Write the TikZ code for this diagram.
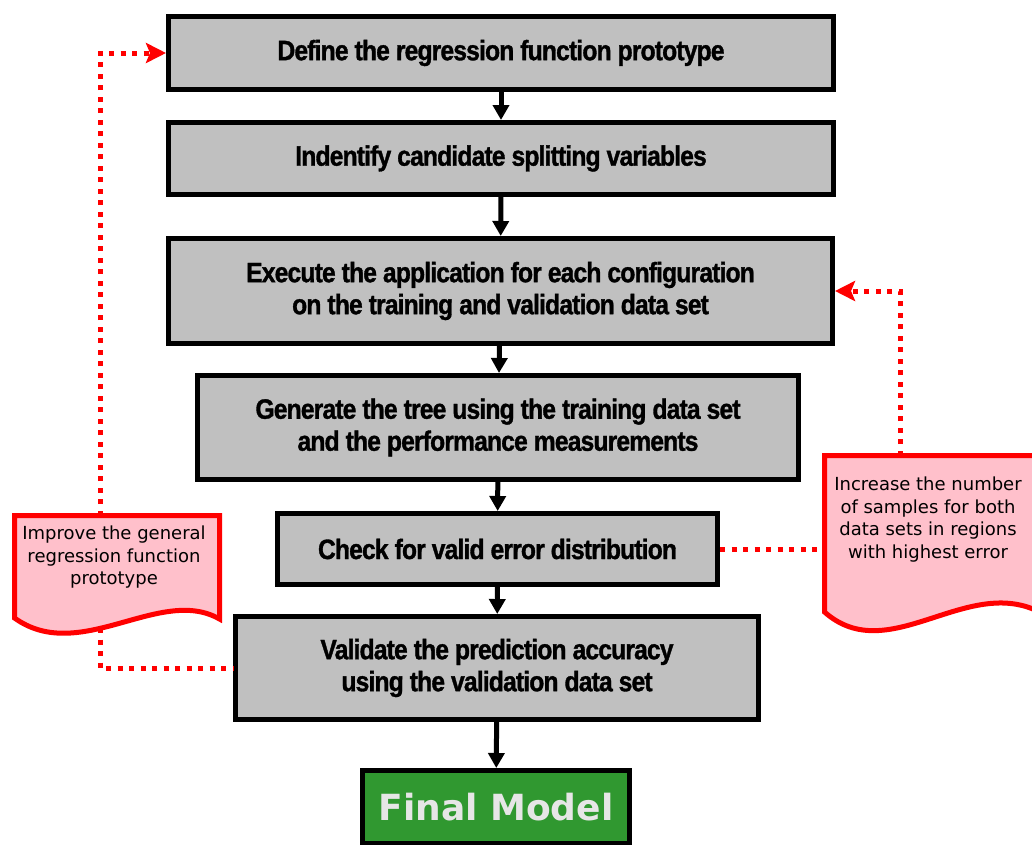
\documentclass[tikz,border=0pt]{standalone}
\usepackage{fontspec}
\setmainfont{DejaVu Sans}
\newfontfamily\boxfont[FakeStretch=0.88,LetterSpace=-3,FakeBold=1.2]{Liberation Sans}
\newfontfamily\notefont{DejaVu Sans}
\usetikzlibrary{arrows.meta,calc}
\definecolor{boxgray}{HTML}{C0C0C0}
\definecolor{notepink}{HTML}{FFC0CB}
\definecolor{finalgreen}{RGB}{48,152,48}
\definecolor{finaltext}{HTML}{E6E6E6}
\begin{document}
\begin{tikzpicture}[x=1pt,y=-1pt,
  stepbox/.style={draw=black,line width=5pt,fill=boxgray,inner sep=0pt,
    align=center,font=\boxfont\bfseries\fontsize{28}{32}\selectfont},
  finalbox/.style={draw=black,line width=5pt,fill=finalgreen,inner sep=0pt,
    text=finaltext,font=\notefont\bfseries\fontsize{36}{40}\selectfont},
  notetext/.style={align=center,inner sep=0pt,font=\notefont\fontsize{18}{22.5}\selectfont},
  noteshape/.style={draw=red,line width=5pt,fill=notepink,line join=miter},
  flow/.style={line width=5pt,-{Triangle[length=15pt,width=16pt]}},
  loop/.style={red,line width=5pt,dash pattern=on 5pt off 6.5pt},
  looparrow/.style={loop,-{Stealth[length=20pt,width=20pt,inset=4pt,sep=0pt]}}
]
\clip (0,0) rectangle (1032,844);
\useasboundingbox (0,0) rectangle (1032,844);

% main boxes (outer size minus line width)
\node[stepbox,minimum width=665pt,minimum height=73pt] (b1) at (501,53) {Define the regression function prototype};
\node[stepbox,minimum width=665pt,minimum height=72pt] (b2) at (501,158.5) {Indentify candidate splitting variables};
\node[stepbox,minimum width=664pt,minimum height=105pt] (b3) at (500.5,291) {Execute the application for each configuration\\on the training and validation data set};
\node[stepbox,minimum width=601pt,minimum height=104pt] (b4) at (498,427.5) {Generate the tree using the training data set\\and the performance measurements};
\node[stepbox,minimum width=440pt,minimum height=71pt] (b5) at (497.5,549) {Check for valid error distribution};
\node[stepbox,minimum width=523pt,minimum height=103pt] (b6) at (497,668) {Validate the prediction accuracy\\using the validation data set};
\node[finalbox,minimum width=267pt,minimum height=73pt] (b7) at (496,807) {Final Model};

\draw[flow] (b1) -- (b2);
\draw[flow] (b2) -- (b3);
\draw[flow] (b3) -- (b4);
\draw[flow] (b4) -- (b5);
\draw[flow] (b5) -- (b6);
\draw[flow] (b6) -- (b7);

% left note
\coordinate (l1) at (14.5,515.5);
\coordinate (l2) at (219.5,515.5);
\coordinate (l3) at (219.5,619);
\coordinate (l4) at (14.5,618);
\draw[noteshape] (l1) -- (l2) -- (l3) .. controls (160,585) and (80,665) .. (l4) -- cycle;
\node[notetext] (n1) at (114,557.5) {Improve the general\\regression function\\prototype};
\coordinate (ltop) at (100,515.5);
\coordinate (lbot) at (100,628);

% right note
\coordinate (r1) at (824.5,455.5);
\coordinate (r2) at (1045,455.5);
\coordinate (r3) at (1045,615);
\coordinate (r4) at (824.5,612);
\draw[noteshape] (r1) -- (r2) -- (r3) .. controls (970,570) and (890,670) .. (r4) -- cycle;
\node[notetext] (n2) at (928,519.5) {Increase the number\\of samples for both\\data sets in regions\\with highest error};
\coordinate (rtop) at (900,455.5);

% feedback loops
\draw[looparrow] (ltop) |- (b1.west);
\draw[loop] (lbot) |- (b6.west);
\draw[loop] (b5.east) -- (r4 |- b5.east);
\draw[looparrow] (rtop) |- (b3.east);
\end{tikzpicture}
\end{document}
